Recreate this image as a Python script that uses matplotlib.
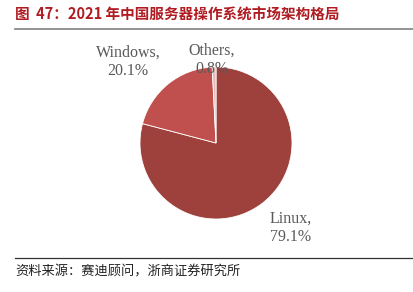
import matplotlib.pyplot as plt
from matplotlib.lines import Line2D

plt.rcParams['font.family'] = ['Noto Sans CJK SC', 'DejaVu Sans']

systems = ['Linux', 'Windows', 'Others']
shares = [79.1, 20.1, 0.8]
colors = ['#9E403B', '#C0504D', '#E6B9B8']

fig = plt.figure(figsize=(4.13, 2.92), dpi=100)
W, H = 413, 292

# pie centred at about (216, 143) px with radius 76 px
cx, cy, r = 216, 143, 76
ax = fig.add_axes([(cx - r) / W, (H - cy - r) / H, 2 * r / W, 2 * r / H])
ax.pie(shares, colors=colors, startangle=90, counterclock=False,
       wedgeprops=dict(linewidth=0.6, edgecolor='white'))
ax.set_xlim(-1, 1)
ax.set_ylim(-1, 1)
ax.set_aspect('equal')

# labels
lab_pos = {'Linux': (291, 228), 'Windows': (128, 62), 'Others': (212, 60)}
for s, v in zip(systems, shares):
    x, y = lab_pos[s]
    fig.text(x / W, 1 - y / H, f'{s},\n{v}%', ha='center', va='center',
             family='Liberation Serif', fontsize=11.5, color='#595959',
             linespacing=1.15, zorder=5)

# title and rules
fig.text(15 / W, 1 - 15 / H, '图  47：2021 年中国服务器操作系统市场架构格局',
         ha='left', va='center', fontsize=10.5, fontweight='bold', color='#B01C22')
fig.add_artist(Line2D([15 / W, 1], [1 - 29 / H, 1 - 29 / H], color='#808080', lw=1.2))
fig.add_artist(Line2D([15 / W, 1], [1 - 258 / H, 1 - 258 / H], color='#333333', lw=0.9))
fig.text(15 / W, 1 - 272 / H, '资料来源：赛迪顾问，浙商证券研究所',
         ha='left', va='center', fontsize=9.5, color='#222222')

fig.savefig('out.png', dpi=100)
